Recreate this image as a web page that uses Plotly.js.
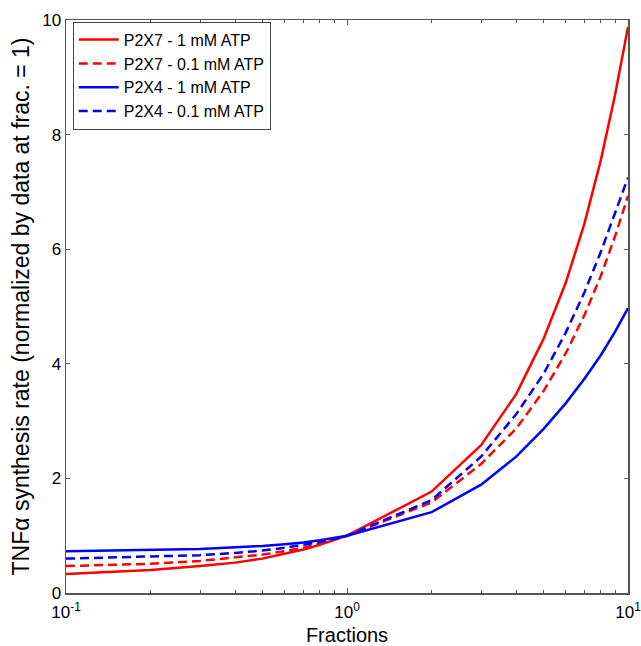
<!DOCTYPE html>
<html>
<head>
<meta charset="utf-8">
<script src="https://cdn.plot.ly/plotly-3.0.1.min.js"></script>
<style>html,body{margin:0;padding:0;background:#fff;}#chart{width:641px;height:646px;}</style>
</head>
<body>
<div id="chart"></div>
<script>
const fractions = [0.1,0.2,0.3,0.4,0.5,0.6,0.7,0.8,0.9,1,2,3,4,5,6,7,8,9,10];
const p2x7_1mM  = [0.33,0.40,0.47,0.53,0.60,0.68,0.76,0.84,0.92,1.00,1.77,2.58,3.47,4.43,5.41,6.45,7.55,8.70,9.88];
const p2x7_01mM = [0.47,0.51,0.56,0.62,0.67,0.73,0.79,0.86,0.93,1.00,1.58,2.25,2.87,3.52,4.18,4.85,5.53,6.23,6.93];
const p2x4_1mM  = [0.73,0.75,0.77,0.80,0.82,0.85,0.88,0.92,0.96,1.00,1.41,1.89,2.38,2.86,3.31,3.74,4.15,4.56,4.97];
const p2x4_01mM = [0.60,0.63,0.66,0.70,0.74,0.79,0.84,0.89,0.94,1.00,1.62,2.38,3.12,3.82,4.54,5.25,5.95,6.65,7.25];
const seriesNames = ['P2X7 - 1 mM ATP','P2X7 - 0.1 mM ATP','P2X4 - 1 mM ATP','P2X4 - 0.1 mM ATP'];
const xTickVals = [0.1,1,10];
const xTickText = ['10<sup>-1</sup>','10<sup>0</sup>','10<sup>1</sup>'];
const xMinorVals = [0.2,0.3,0.4,0.5,0.6,0.7,0.8,0.9,2,3,4,5,6,7,8,9];
const yTickVals = [0,2,4,6,8,10];

const mk = (y, name, color, dash) => ({
  x: fractions, y: y, name: name, type: 'scatter', mode: 'lines',
  line: {color: color, width: 2.5, dash: dash}
});
const data = [
  mk(p2x7_1mM, seriesNames[0], '#ff0000', 'solid'),
  mk(p2x7_01mM, seriesNames[1], '#ff0000', '9px,5px'),
  mk(p2x4_1mM, seriesNames[2], '#0000ff', 'solid'),
  mk(p2x4_01mM, seriesNames[3], '#0000ff', '9px,5px')
];
const layout = {
  width: 641, height: 646,
  margin: {l: 66, r: 13, t: 20, b: 53},
  paper_bgcolor: '#fff', plot_bgcolor: '#fff',
  font: {family: 'Liberation Sans, Arial, sans-serif', color: '#000'},
  showlegend: true,
  legend: {
    x: 0.012, y: 0.997, xanchor: 'left', yanchor: 'top',
    bordercolor: '#444', borderwidth: 1, bgcolor: '#fff',
    font: {size: 16, color: '#000'}, tracegroupgap: 0, itemwidth: 40
  },
  xaxis: {
    type: 'log', range: [-1, 1],
    tickvals: xTickVals, ticktext: xTickText,
    ticks: 'inside', ticklen: 5, tickcolor: '#555',
    minor: {tickvals: xMinorVals, ticks: 'inside', ticklen: 3, tickcolor: '#555', showgrid: false},
    showgrid: false, zeroline: false,
    showline: true, linecolor: '#555', linewidth: 1.5, mirror: 'ticks',
    tickfont: {size: 17}, ticklabeloverflow: 'allow', ticklabelstandoff: 3,
    title: {text: 'Fractions', font: {size: 20}, standoff: 8}
  },
  yaxis: {
    range: [0, 10],
    tickvals: yTickVals,
    ticks: 'inside', ticklen: 4, tickcolor: '#555',
    showgrid: false, zeroline: false,
    showline: true, linecolor: '#555', linewidth: 1.5, mirror: 'ticks',
    tickfont: {size: 17},
    title: {text: 'TNFα synthesis rate (normalized by data at frac. = 1)', font: {size: 23}, standoff: 6}
  }
};
Plotly.newPlot('chart', data, layout, {staticPlot: true, displayModeBar: false});
</script>
</body>
</html>
